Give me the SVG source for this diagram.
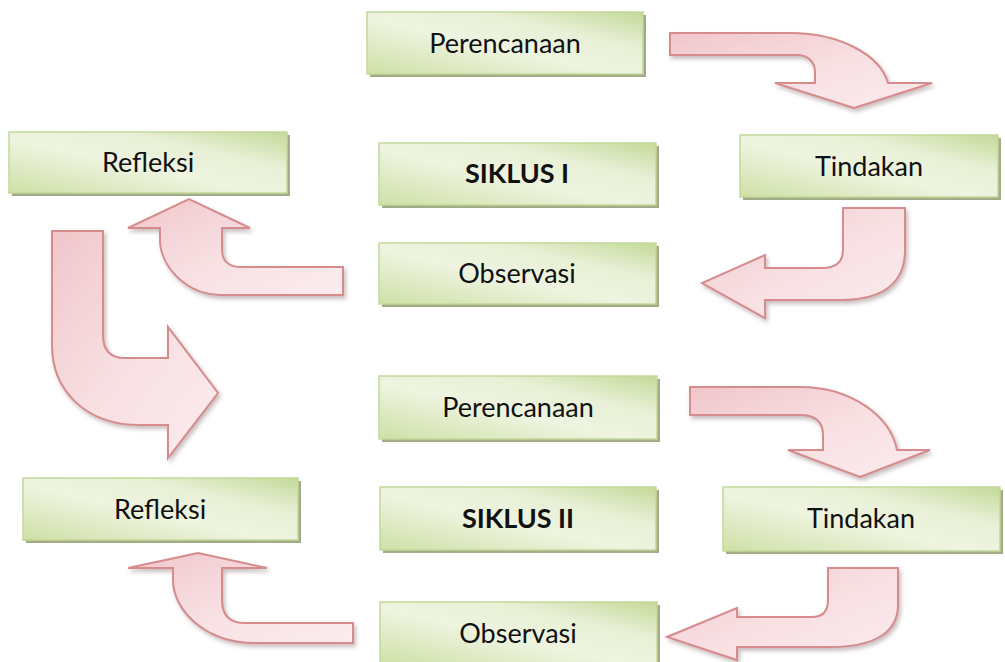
<svg xmlns="http://www.w3.org/2000/svg" width="1005" height="662" viewBox="0 0 1005 662">
<defs>
<linearGradient id="gb" x1="0" y1="1" x2="1" y2="0">
<stop offset="0" stop-color="#cfe0a6"/>
<stop offset="0.45" stop-color="#eef4e0"/>
<stop offset="0.7" stop-color="#e8f0d6"/>
<stop offset="1" stop-color="#c4d998"/>
</linearGradient>
<linearGradient id="ga" x1="0" y1="0" x2="1" y2="1">
<stop offset="0" stop-color="#f0c6ca"/>
<stop offset="0.5" stop-color="#f8dfe2"/>
<stop offset="1" stop-color="#fbecee"/>
</linearGradient>
<filter id="sh" x="-10%" y="-10%" width="130%" height="130%">
<feDropShadow dx="2" dy="3" stdDeviation="2" flood-color="#8a7070" flood-opacity="0.45"/>
</filter>
</defs>
<style>
.box{fill:url(#gb);stroke:#c2d99a;stroke-width:1.5}
.bsh{fill:#a3ab86}
.lbl{font-family:Lato,"Open Sans",sans-serif;font-size:27px;fill:#111;text-anchor:middle}
.b{font-weight:bold}
.arr{fill:url(#ga);stroke:#d68b8d;stroke-width:2;stroke-linejoin:miter;filter:url(#sh)}
</style>
<g id="connectors">
<path class="arr" d="M670,33 L790,33 C840,33 880,55 888,83 L932,83 L854,108 L775,83 L815,83 L815,72 C815,62 808,55 797,55 L670,55 Z"/>
<path class="arr" d="M843,208 L905,208 L905,250 C905,285 880,300 840,300 L765,300 L765,318 L702,283 L765,255 L765,268 L822,268 C836,268 843,262 843,250 Z"/>
<path class="arr" d="M343,267 L343,295 L222,295 C185,295 160,265 160,240 L160,228 L128,228 L189,199 L250,228 L222,228 L222,250 C222,261 229,267 240,267 Z"/>
<path class="arr" d="M52,231 L103,231 L103,335 C103,350 110,358 125,358 L168,358 L168,327 L218,393 L168,458 L168,425 L140,425 C85,425 52,390 52,345 Z"/>
<path class="arr" d="M690,387 L800,387 C850,387 890,415 897,450 L930,450 L860,477 L788,450 L823,450 L823,435 C823,422 815,415 800,415 L690,415 Z"/>
<path class="arr" d="M828,568 L898,568 L898,605 C898,635 870,647 830,647 L737,647 L737,660 L667,637 L737,608 L737,617 L812,617 C822,617 828,612 828,600 Z"/>
<path class="arr" d="M353,623 L353,643 L255,643 C205,643 173,610 173,580 L173,568 L128,568 L198,553 L267,568 L222,568 L222,600 C222,615 230,623 245,623 Z"/>
</g>
<g id="perencanaan1"><rect class="bsh" x="370" y="15" width="276" height="62"/><rect class="box" x="367" y="12" width="276" height="62"/><text class="lbl" x="505" y="53">Perencanaan</text></g>
<g id="tindakan1"><rect class="bsh" x="743" y="138" width="258" height="62"/><rect class="box" x="740" y="135" width="258" height="62"/><text class="lbl" x="869" y="176">Tindakan</text></g>
<g id="refleksi1"><rect class="bsh" x="12" y="135" width="278" height="61"/><rect class="box" x="9" y="132" width="278" height="61"/><text class="lbl" x="148" y="172">Refleksi</text></g>
<g id="siklus1"><rect class="bsh" x="382" y="146" width="277" height="62"/><rect class="box" x="379" y="143" width="277" height="62"/><text class="lbl b" x="517" y="183">SIKLUS I</text></g>
<g id="observasi1"><rect class="bsh" x="382" y="246" width="277" height="61"/><rect class="box" x="379" y="243" width="277" height="61"/><text class="lbl" x="517" y="283">Observasi</text></g>
<g id="perencanaan2"><rect class="bsh" x="382" y="379" width="278" height="63"/><rect class="box" x="379" y="376" width="278" height="63"/><text class="lbl" x="518" y="417">Perencanaan</text></g>
<g id="refleksi2"><rect class="bsh" x="26" y="481" width="275" height="62"/><rect class="box" x="23" y="478" width="275" height="62"/><text class="lbl" x="160" y="519">Refleksi</text></g>
<g id="siklus2"><rect class="bsh" x="383" y="490" width="276" height="63"/><rect class="box" x="380" y="487" width="276" height="63"/><text class="lbl b" x="518" y="528">SIKLUS II</text></g>
<g id="tindakan2"><rect class="bsh" x="726" y="490" width="277" height="64"/><rect class="box" x="723" y="487" width="277" height="64"/><text class="lbl" x="861" y="528">Tindakan</text></g>
<g id="observasi2"><rect class="bsh" x="383" y="605" width="277" height="62"/><rect class="box" x="380" y="602" width="277" height="62"/><text class="lbl" x="518" y="643">Observasi</text></g>
</svg>
